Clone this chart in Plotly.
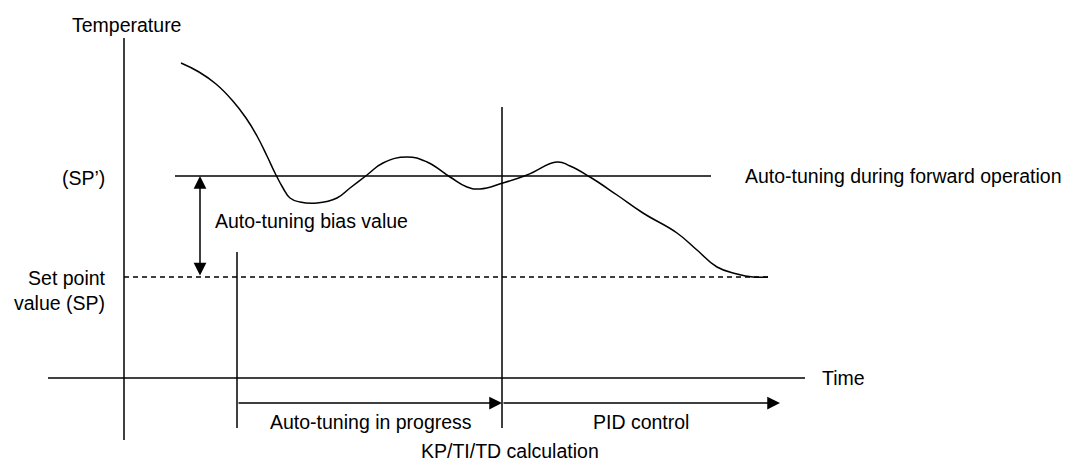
import plotly.graph_objects as go

# Process value trace during auto-tuning then PID control (time, temperature in diagram units;
# temperature axis runs downward on screen, smaller = hotter)
curve_t = [181, 199, 216, 232, 246, 257, 267, 275, 283, 290, 300, 317, 337, 350, 367, 383,
           407, 427, 450, 467, 480, 503, 527, 557, 570, 590, 617, 643, 677, 697, 717, 737,
           753, 768]
curve_temp = [63, 72, 84, 100, 118, 136, 156, 173, 188, 198, 202, 203, 198, 188, 175, 163,
              157, 162, 177, 187, 189, 183, 175, 162, 166, 177, 195, 213, 233, 250, 267, 274,
              277, 277]

# Reference levels
sp_level = 277        # set point value (SP)
sp_prime_level = 176  # SP' (set point + bias)
time_axis_level = 378

# Key time instants
t_axis = 124          # origin of the temperature axis
t_start = 237         # auto-tuning starts
t_calc = 502          # KP/TI/TD calculation
t_end_pid = 780

LINE = dict(color="black", width=1.5)
FONT = dict(family="Liberation Sans, Arial, sans-serif", size=19.5, color="black")

fig = go.Figure()

def seg(x, y, dash=None):
    line = dict(LINE)
    if dash:
        line["dash"] = dash
    fig.add_trace(go.Scatter(x=x, y=y, mode="lines", line=line, hoverinfo="skip"))

# Axes
seg([t_axis, t_axis], [38, 440])
seg([48, 805], [time_axis_level, time_axis_level])

# Set point (dashed) and SP' line
seg([t_axis, 768], [sp_level, sp_level], dash="5px,4px")
seg([175, 711], [sp_prime_level, sp_prime_level])

# Event markers
seg([t_start, t_start], [252, 428])
seg([t_calc, t_calc], [107, 428])

# Temperature curve
fig.add_trace(go.Scatter(x=curve_t, y=curve_temp, mode="lines",
                         line=dict(color="black", width=1.5, shape="spline", smoothing=1.3),
                         hoverinfo="skip"))

def arrow(x0, y0, x1, y1, both=False):
    fig.add_annotation(x=x1, y=y1, ax=x0, ay=y0, xref="x", yref="y", axref="x", ayref="y",
                       text="", showarrow=True, arrowhead=2, startarrowhead=2,
                       arrowside="end+start" if both else "end",
                       arrowsize=1.7, startarrowsize=1.7, arrowwidth=1.5, arrowcolor="black",
                       standoff=0, startstandoff=0)

# Bias arrow between SP and SP'
arrow(200, sp_level, 200, sp_prime_level, both=True)
# Phase arrows
arrow(t_start, 403, t_calc, 403)
arrow(t_calc, 403, t_end_pid, 403)

def label(x, y, text, xanchor="center"):
    fig.add_annotation(x=x, y=y, xref="x", yref="y", text=text, showarrow=False,
                       xanchor=xanchor, yanchor="middle", font=FONT,
                       align="right" if xanchor == "right" else "left")

label(126, 25, "Temperature")
label(107, 178, "(SP’)", xanchor="right")
label(108, 290, "Set point<br>value (SP)", xanchor="right")
label(213, 221, "Auto-tuning bias value", xanchor="left")
label(743, 176, "Auto-tuning during forward operation", xanchor="left")
label(820, 378, "Time", xanchor="left")
label(371, 422, "Auto-tuning in progress")
label(641, 422, "PID control")
label(510, 451, "KP/TI/TD calculation")

fig.update_layout(
    width=1085, height=461,
    margin=dict(l=0, r=0, t=0, b=0),
    paper_bgcolor="white", plot_bgcolor="white",
    showlegend=False,
    xaxis=dict(range=[0, 1085], visible=False, fixedrange=True),
    yaxis=dict(range=[461, 0], visible=False, fixedrange=True),
)

fig.write_html("out.html")
